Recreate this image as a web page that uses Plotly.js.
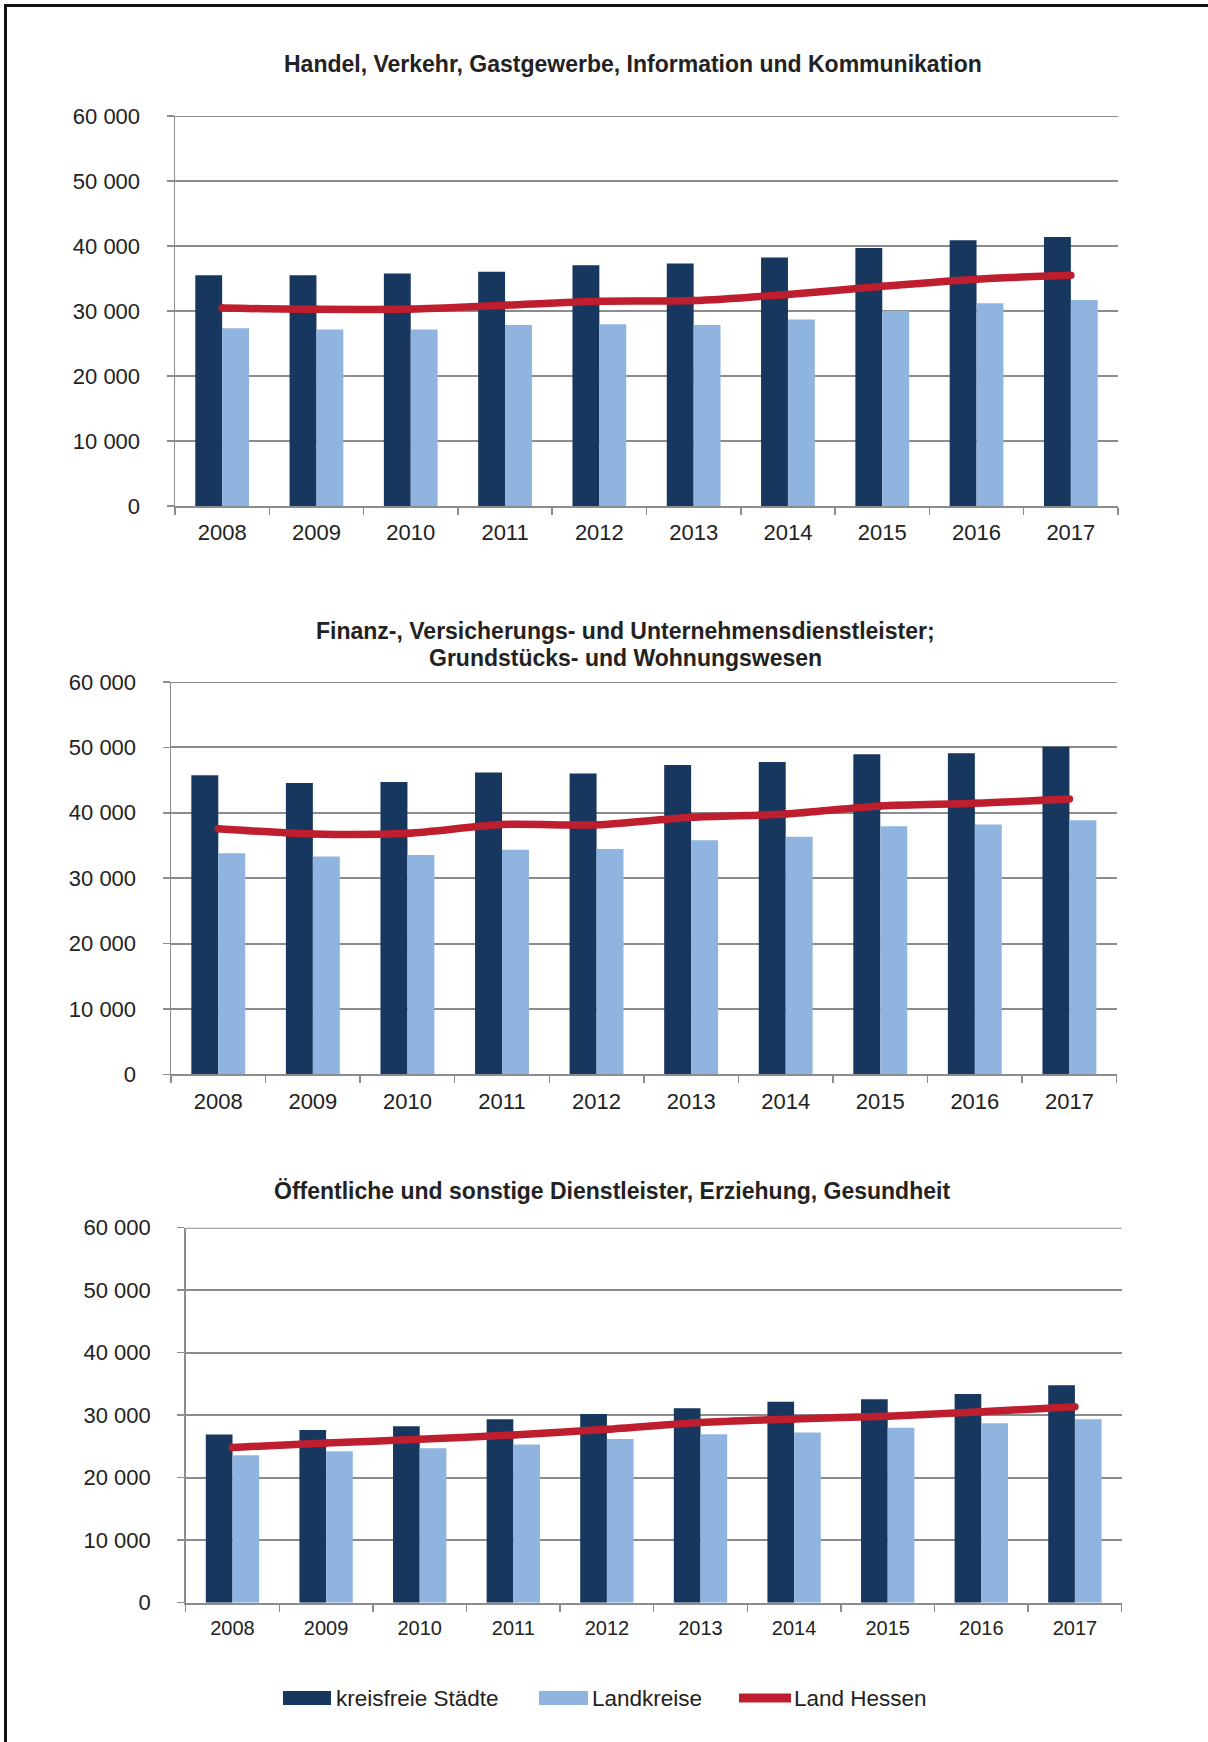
<!DOCTYPE html>
<html>
<head>
<meta charset="utf-8">
<script src="https://cdn.plot.ly/plotly-3.0.1.min.js"></script>
<style>
  html, body { margin: 0; padding: 0; background: #ffffff; }
  #chart { width: 1208px; height: 1742px; }
</style>
</head>
<body>
<div id="chart"></div>
<script>
// ---------- data ----------
const years = ['2008', '2009', '2010', '2011', '2012', '2013', '2014', '2015', '2016', '2017'];

// Handel, Verkehr, Gastgewerbe, Information und Kommunikation
const staedteHandel    = [35500, 35500, 35750, 36050, 37050, 37300, 38250, 39700, 40900, 41400];
const landkreiseHandel = [27350, 27150, 27150, 27850, 27950, 27850, 28700, 30000, 31200, 31700];
const hessenHandel     = [30450, 30250, 30300, 30900, 31500, 31600, 32550, 33800, 34900, 35500];

// Finanz-, Versicherungs- und Unternehmensdienstleister; Grundstücks- und Wohnungswesen
const staedteFinanz    = [45750, 44550, 44700, 46150, 46000, 47300, 47750, 48950, 49100, 50100];
const landkreiseFinanz = [33800, 33300, 33550, 34350, 34450, 35800, 36350, 37950, 38200, 38850];
const hessenFinanz     = [37550, 36750, 36850, 38200, 38150, 39300, 39800, 41050, 41450, 42100];

// Öffentliche und sonstige Dienstleister, Erziehung, Gesundheit
const staedteOeff      = [26900, 27650, 28250, 29350, 30200, 31100, 32150, 32550, 33400, 34800];
const landkreiseOeff   = [23600, 24250, 24700, 25300, 26200, 26950, 27250, 28000, 28700, 29350];
const hessenOeff       = [24850, 25550, 26150, 26850, 27750, 28850, 29400, 29850, 30550, 31350];

const yMax = 60000;
const yTickVals = [0, 10000, 20000, 30000, 40000, 50000, 60000];
const yTickText = ['0', '10 000', '20 000', '30 000', '40 000', '50 000', '60 000'];

const titleLines = [
  ['Handel, Verkehr, Gastgewerbe, Information und Kommunikation'],
  ['Finanz-, Versicherungs- und Unternehmensdienstleister;', 'Grundstücks- und Wohnungswesen'],
  ['Öffentliche und sonstige Dienstleister, Erziehung, Gesundheit']
];
const seriesNames = ['kreisfreie Städte', 'Landkreise', 'Land Hessen'];

// ---------- styling ----------
const W = 1208, H = 1742;
const DARK = '#17375e', LIGHT = '#8fb4e0', RED = '#be1e2d';
const GRID = '#8c8c8c', TXT = '#222222';
const FONT = 'Liberation Sans, Arial, sans-serif';
const px = v => v / W;
const py = v => 1 - v / H;

const panels = [
  { s: staedteHandel, l: landkreiseHandel, h: hessenHandel, x0: 175, x1: 1118, y0: 116, y1: 506, xf: 22, tx: 633, ty: [64.5] },
  { s: staedteFinanz, l: landkreiseFinanz, h: hessenFinanz, x0: 171, x1: 1116.7, y0: 682, y1: 1074.3, xf: 22, tx: 625.5, ty: [631, 658] },
  { s: staedteOeff, l: landkreiseOeff, h: hessenOeff, x0: 185.7, x1: 1121.7, y0: 1227.7, y1: 1602.7, xf: 20, tx: 612, ty: [1191] }
];

const traces = [];
const layout = {
  width: W, height: H,
  margin: { l: 0, r: 0, t: 0, b: 0 },
  paper_bgcolor: '#ffffff', plot_bgcolor: 'rgba(0,0,0,0)',
  showlegend: false,
  barmode: 'group', bargap: 0.43, bargroupgap: 0,
  font: { family: FONT, color: TXT, size: 22 },
  annotations: [], shapes: []
};

panels.forEach((p, i) => {
  const n = i === 0 ? '' : String(i + 1);
  const xa = 'x' + n, ya = 'y' + n;
  traces.push({ type: 'bar', x: years, y: p.s, name: seriesNames[0], marker: { color: DARK }, xaxis: xa, yaxis: ya, hoverinfo: 'y' });
  traces.push({ type: 'bar', x: years, y: p.l, name: seriesNames[1], marker: { color: LIGHT }, xaxis: xa, yaxis: ya, hoverinfo: 'y' });
  traces.push({ type: 'scatter', mode: 'lines+markers', x: years, y: p.h, name: seriesNames[2],
    line: { color: RED, width: 7.5, shape: 'spline', smoothing: 0.8 },
    marker: { color: RED, size: 7.5 }, xaxis: xa, yaxis: ya, hoverinfo: 'y' });

  layout['xaxis' + n] = {
    domain: [px(p.x0), px(p.x1)], anchor: ya, type: 'category',
    range: [-0.5, 9.5], fixedrange: true,
    showline: true, linecolor: GRID, linewidth: 2,
    ticks: 'outside', tickson: 'boundaries', ticklen: 7, tickwidth: 1.5, tickcolor: GRID,
    showgrid: false, zeroline: false,
    tickfont: { family: FONT, size: p.xf, color: TXT },
    ticklabelstandoff: 6
  };
  layout['yaxis' + n] = {
    domain: [py(p.y1), py(p.y0)], anchor: xa,
    range: [0, yMax], fixedrange: true,
    tickvals: yTickVals, ticktext: yTickText,
    showline: true, linecolor: GRID, linewidth: 1.5,
    ticks: 'outside', ticklen: 7, tickwidth: 1.5, tickcolor: GRID,
    showgrid: true, gridcolor: GRID, gridwidth: 2,
    zeroline: false,
    tickfont: { family: FONT, size: 22, color: TXT },
    ticklabelstandoff: 22
  };
  // top gridline (Plotly skips gridlines lying on the plot edge)
  layout.shapes.push({ type: 'line', xref: xa + ' domain', yref: ya,
    x0: 0, x1: 1, y0: yMax, y1: yMax, line: { color: GRID, width: 2 }, layer: 'below' });

  titleLines[i].forEach((line, j) => {
    layout.annotations.push({
      text: '<b>' + line + '</b>', xref: 'paper', yref: 'paper',
      x: px(p.tx), y: py(p.ty[j]), xanchor: 'center', yanchor: 'middle',
      showarrow: false, font: { family: FONT, size: 23, color: TXT }
    });
  });
});

// ---------- legend (drawn manually) ----------
const legY = 1698;
const legendItems = [
  { kind: 'rect', color: DARK, x0: 283, x1: 331, tx: 334 },
  { kind: 'rect', color: LIGHT, x0: 539, x1: 588, tx: 590 },
  { kind: 'line', color: RED, x0: 739, x1: 791, tx: 792 }
];
legendItems.forEach((it, k) => {
  if (it.kind === 'rect') {
    layout.shapes.push({ type: 'rect', xref: 'paper', yref: 'paper',
      x0: px(it.x0), x1: px(it.x1), y0: py(legY + 7), y1: py(legY - 7),
      fillcolor: it.color, line: { width: 0 } });
  } else {
    layout.shapes.push({ type: 'line', xref: 'paper', yref: 'paper',
      x0: px(it.x0), x1: px(it.x1), y0: py(legY), y1: py(legY),
      line: { color: it.color, width: 9 } });
  }
  layout.annotations.push({ text: seriesNames[k], xref: 'paper', yref: 'paper',
    x: px(it.tx), y: py(legY), xanchor: 'left', yanchor: 'middle', showarrow: false,
    font: { family: FONT, size: 22.5, color: TXT } });
});

// ---------- outer frame ----------
layout.shapes.push({ type: 'line', xref: 'paper', yref: 'paper', x0: px(5.5), x1: px(5.5), y0: py(4), y1: py(H + 5), line: { color: '#111', width: 3 } });
layout.shapes.push({ type: 'line', xref: 'paper', yref: 'paper', x0: px(4), x1: px(W + 5), y0: py(5.5), y1: py(5.5), line: { color: '#111', width: 3 } });

Plotly.newPlot('chart', traces, layout, { displayModeBar: false, staticPlot: true });
</script>
</body>
</html>
